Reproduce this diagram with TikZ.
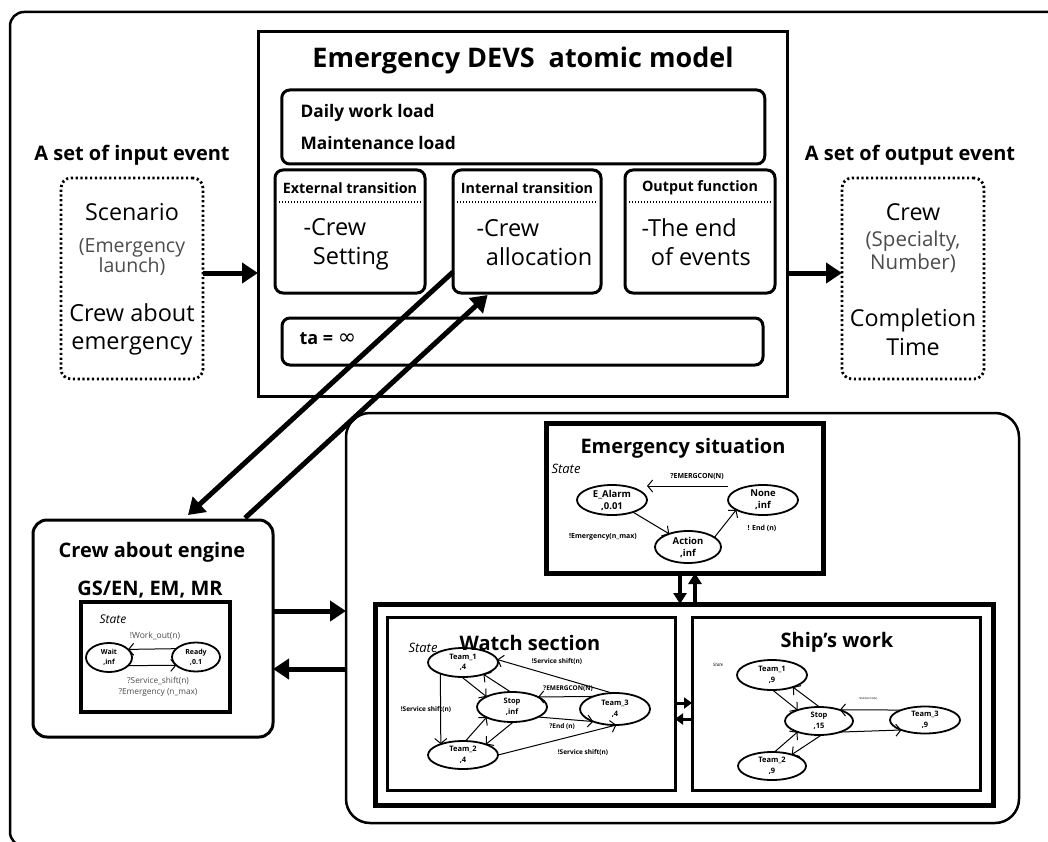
\documentclass[tikz,border=0pt]{standalone}
\usepackage{fontspec}
\setmainfont{Open Sans}
\newfontfamily\symfont{DejaVu Sans}
\usetikzlibrary{arrows.meta,shapes.geometric}
\newcommand{\fsz}[2]{\fontsize{#1}{#2}\selectfont}
\definecolor{subtext}{gray}{0.3}

\tikzset{
  sized/.style 2 args={minimum width=#1, minimum height=#2},
  frame/.style={draw, line width=2.5pt, rounded corners=14pt},
  modelbox/.style={draw, line width=3pt, inner sep=0pt, outer sep=0pt},
  partbox/.style={draw, line width=3pt, rounded corners=8pt, inner sep=0pt, outer sep=0pt},
  eventbox/.style={draw, line width=2.8pt, dash pattern=on 2.2pt off 2.6pt, rounded corners=10pt, inner sep=0pt, outer sep=0pt},
  groupbox/.style={draw, line width=2.5pt, rounded corners=24pt, inner sep=0pt, outer sep=0pt},
  enginebox/.style={draw, line width=3pt, rounded corners=14pt, inner sep=0pt, outer sep=0pt},
  heavybox/.style={draw, line width=5pt, inner sep=0pt, outer sep=0pt},
  panel/.style={draw, line width=3pt, inner sep=0pt, outer sep=0pt},
  sepline/.style={line width=1.6pt, dash pattern=on 1.4pt off 1.6pt},
  state/.style={ellipse, draw, line width=1.8pt, inner sep=-3pt, outer sep=0pt, align=center},
  trans/.style={line width=1pt, -{Straight Barb[length=5pt,width=12pt]}},
  bigarrow/.style={line width=5pt, -{Triangle[length=16pt,width=20pt]}},
  midarrow/.style={line width=3.5pt, -{Triangle[length=11pt,width=13pt]}},
  smallarrow/.style={line width=3pt, -{Triangle[length=8pt,width=11pt]}},
  heading/.style={font=\bfseries\fsz{20}{23}},
  evhead/.style={font=\bfseries\fsz{20}{23}},
  parthead/.style={font=\bfseries\fsz{14.3}{16}},
  partbody/.style={anchor=west, align=left, font=\fsz{23.5}{29}},
  bigtext/.style={font=\fsz{23.3}{29}, align=center},
  smalltext/.style={font=\fsz{20.5}{23}, align=center, text=subtext},
  statetag/.style={font=\itshape\fsz{13}{15}},
  lbl/.style={font=\bfseries\fsz{6.5}{8}},
}

\begin{document}
\begin{tikzpicture}[x=1pt,y=-1pt]
\useasboundingbox (0,0) rectangle (1048,842);
\clip (0,0) rectangle (1048,842);

% outer frame
\draw[frame] (10,12) rectangle (1070,846);

% ---------- DEVS atomic model ----------
\node[modelbox, sized={529pt}{364pt}] (model) at (522.5,214) {};
\node[font=\bfseries\fsz{27}{32}] (title) at (523,60) {Emergency DEVS\ \ atomic model};
\node[partbox, sized={483pt}{74pt}] (daily) at (523.25,127) {};
\node[anchor=west, font=\bfseries\fsz{17.3}{20}] (dwl) at (297,113) {Daily work load};
\node[anchor=west, font=\bfseries\fsz{17.3}{20}] (mtl) at (297,143) {Maintenance load};

\node[partbox, sized={150pt}{123pt}] (ext) at (350,231.5) {};
\node[partbox, sized={148pt}{123pt}] (int) at (527,231.5) {};
\node[partbox, sized={150pt}{123pt}] (out) at (700,231.5) {};
\node[parthead] (exth) at (350,188) {External transition};
\node[parthead] (inth) at (527,188) {Internal transition};
\node[parthead] (outh) at (700,188) {Output function};
\foreach \b in {ext,int,out}
  \draw[sepline] ([xshift=4pt,yshift=-32pt]\b.north west) -- ([xshift=-4pt,yshift=-32pt]\b.north east);
\node[partbody] (extb) at (300,244.5) {-Crew\\\hspace*{0.4em}Setting};
\node[partbody] (intb) at (473,242.5) {-Crew\\\hspace*{0.4em}allocation};
\node[partbody] (outb) at (638,242.5) {-The end\\\hspace*{0.4em}of events};

\node[partbox, sized={481pt}{47pt}] (ta) at (522.5,341.5) {};
\node[anchor=west, font=\fsz{18}{20}] (tat) at (296,339) {\bfseries ta =\ {\mdseries\symfont\fsz{22}{24}∞}};

% ---------- input / output events ----------
\node[evhead] (inhead) at (132,155) {A set of input event};
\node[eventbox, sized={142pt}{201pt}] (inbox) at (132,278.5) {};
\node[bigtext] (scen) at (132,212) {Scenario};
\node[smalltext, font=\fsz{19.5}{20}] (launch) at (132,257) {(Emergency\\launch)};
\node[bigtext, font=\fsz{23.5}{28}] (cae) at (132,329) {Crew about\\emergency};

\node[evhead] (outhead) at (910,155) {A set of output event};
\node[eventbox, sized={142pt}{201pt}] (outbox) at (913,278.5) {};
\node[bigtext] (crewo) at (913,212) {Crew};
\node[smalltext] (spec) at (913,251.5) {(Specialty,\\Number)};
\node[bigtext] (comp) at (913,332.5) {Completion\\Time};

% ---------- crew about engine ----------
\node[enginebox, sized={240pt}{217pt}] (crew) at (153,628.5) {};
\node[heading] (ceh) at (152,552) {Crew about engine};
\node[heading] (gs) at (150,590) {GS/EN, EM, MR};
\node[heavybox, line width=4.5pt, sized={149pt}{110pt}] (crewstate) at (155.5,657) {};
\node[font=\itshape\fsz{12}{14}] (cst) at (113,619) {State};
\node[state, sized={46pt}{29pt}, font=\bfseries\fsz{7}{10}] (wait) at (109,657.5) {Wait\\,inf};
\node[state, sized={48pt}{29pt}, font=\bfseries\fsz{7}{10}] (ready) at (196,657) {Ready\\,0.1};
\draw[trans] (ready.157) -- (wait.23);
\draw[trans] (wait.-23) -- (ready.-157);
\node[font=\fsz{8.5}{9}, text=subtext] (wko) at (155,636) {!Work\_out(n)};
\node[font=\fsz{8.3}{11}, text=subtext, align=center] (svs) at (158,686.5) {?Service\_shift(n)\\?Emergency (n\_max)};

% ---------- ship system ----------
\node[groupbox, sized={673pt}{410pt}] (sys) at (682.5,618) {};

% emergency situation
\node[heavybox, sized={277pt}{150pt}] (emerg) at (684.5,498) {};
\node[heading] (emh) at (683,448) {Emergency situation};
\node[statetag] (est) at (566,469) {State};
\node[state, sized={70pt}{30pt}, font=\bfseries\fsz{9.5}{12}] (ealarm) at (612,500) {E\_Alarm\\,0.01};
\node[state, sized={70pt}{30pt}, font=\bfseries\fsz{9.5}{12}] (none) at (763,500) {None\\,inf};
\node[state, sized={66pt}{32pt}, font=\bfseries\fsz{9.5}{12}] (action) at (688,547) {Action\\,inf};
\coordinate (yA) at (0,486);
\draw[trans] (none.west |- yA) -- (ealarm.east |- yA);
\draw[trans] (ealarm.-30) -- (action.145);
\draw[trans] (action.20) -- (none.-160);
\node[lbl, font=\bfseries\fsz{7}{8}] (lemc) at (697,477) {?EMERGCON(N)};
\node[lbl, font=\bfseries\fsz{7}{8}] (lemx) at (603,537) {!Emergency(n\_max)};
\node[lbl, font=\bfseries\fsz{7}{8}] (lend) at (762,528) {! End (n)};

% departments
\node[heavybox, sized={618pt}{201pt}] (dept) at (684,704.5) {};
\node[panel, sized={288pt}{173pt}] (watch) at (531,703.5) {};
\node[panel, sized={288pt}{173pt}] (ship) at (836,703.5) {};

% watch section
\node[heading] (wh) at (530,643) {Watch section};
\node[statetag] (wst) at (423,648) {State};
\node[state, sized={70pt}{29pt}, font=\bfseries\fsz{7.5}{10.5}] (wt1) at (463,662.5) {Team\_1\\,4};
\node[state, sized={70pt}{30pt}, font=\bfseries\fsz{7.5}{10.5}] (wstop) at (512,707) {Stop\\,inf};
\node[state, sized={70pt}{32pt}, font=\bfseries\fsz{7.5}{10.5}] (wt3) at (615,709) {Team\_3\\,4};
\node[state, sized={70pt}{28pt}, font=\bfseries\fsz{7.5}{10.5}] (wt2) at (463,755) {Team\_2\\,4};
\draw[trans] (wt1.-154) -- (wt2.154);
\draw[trans] (wt1.-95) -- (wstop.158);
\draw[trans] (wstop.95) -- (wt1.-30);
\draw[trans] (wt3.100) -- (wt1.5);
\draw[trans] (wt3.150) -- (wstop.21);
\draw[trans] (wstop.-21) -- (wt3.-150);
\draw[trans] (wt2.80) -- (wstop.-158);
\draw[trans] (wstop.-85) -- (wt2.25);
\draw[trans] (wt2.0) -- (wt3.-85);
\node[lbl] (wl1) at (426,710) {!Service shift(n)};
\node[lbl] (wl2) at (557,662) {!Service shift(n)};
\node[lbl] (wl3) at (568,689) {?EMERGCON(N)};
\node[lbl] (wl4) at (562,727) {?End (n)};
\node[lbl] (wl5) at (583,753) {!Service shift(n)};

% ship's work
\node[heading] (sh) at (837,642) {Ship’s work};
\node[font=\itshape\fsz{4.5}{5}] (sst) at (718,665) {State};
\node[state, sized={70pt}{30pt}, font=\bfseries\fsz{7.5}{10.5}] (st1) at (772,675) {Team\_1\\,9};
\node[state, sized={68pt}{28pt}, font=\bfseries\fsz{7.5}{10.5}] (sstop) at (819,721) {Stop\\,15};
\node[state, sized={70pt}{27pt}, font=\bfseries\fsz{7.5}{10.5}] (st3) at (925,720) {Team\_3\\,9};
\node[state, sized={68pt}{28pt}, font=\bfseries\fsz{7.5}{10.5}] (st2) at (772,766) {Team\_2\\,9};
\draw[trans] (st1.-88) -- (sstop.153);
\draw[trans] (sstop.88) -- (st1.-30);
\draw[trans] (st2.80) -- (sstop.-153);
\draw[trans] (sstop.-80) -- (st2.30);
\draw[trans] (st3.157) -- (sstop.28);
\draw[trans] (sstop.-28) -- (st3.-157);
\node[font=\fsz{2.5}{3}] (sl1) at (868,699) {?EMERGCON(N)};

% ---------- heavy connectors ----------
\coordinate (io) at (0,273);
\draw[bigarrow] (inbox.east |- io) -- (model.west |- io);
\draw[bigarrow] (model.east |- io) -- (outbox.west |- io);
\draw[bigarrow] ([yshift=-40.5pt]int.west) -- ([xshift=35pt,yshift=5pt]crew.north);
\draw[bigarrow] ([xshift=92pt,yshift=2pt]crew.north) -- ([xshift=-39.4pt,yshift=-2pt]int.south);
\coordinate (r1) at (0,611);
\coordinate (r2) at (0,669);
\draw[bigarrow] (crew.east |- r1) -- (sys.west |- r1);
\draw[bigarrow] (sys.west |- r2) -- (crew.east |- r2);
\coordinate (c1) at (680,0);
\coordinate (c2) at (695,0);
\draw[midarrow] (emerg.south -| c1) -- (dept.north -| c1);
\draw[midarrow] (dept.north -| c2) -- (emerg.south -| c2);
\coordinate (w1) at (0,703);
\coordinate (w2) at (0,719);
\draw[smallarrow] (watch.east |- w1) -- (ship.west |- w1);
\draw[smallarrow] (ship.west |- w2) -- (watch.east |- w2);
\end{tikzpicture}
\end{document}
